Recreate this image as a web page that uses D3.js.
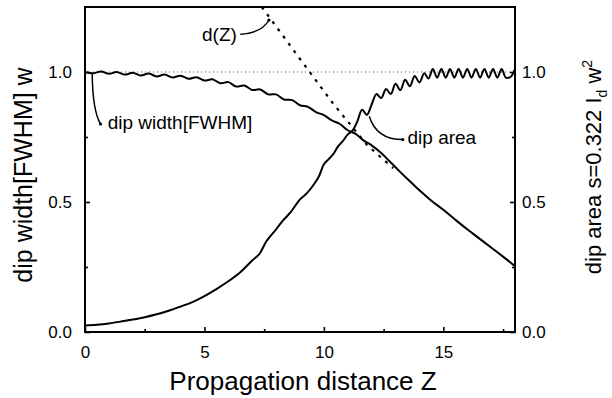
<!DOCTYPE html>
<html>
<head>
<meta charset="utf-8">
<script src="https://cdn.jsdelivr.net/npm/d3@7"></script>
<style>
  body { margin: 0; background: #fff; }
  text { font-family: Arial, "Liberation Sans", Helvetica, sans-serif; fill: #000; }
</style>
</head>
<body>
<svg id="chart" width="612" height="398"></svg>
<script>
// values
const widthZ = [0, 0.33, 0.67, 1.0, 1.33, 1.67, 2.0, 2.33, 2.67, 3.0, 3.33, 3.67, 4.0, 4.33, 4.67, 5.0, 5.33, 5.67, 6.0, 6.33, 6.67, 7.0, 7.33, 7.67, 8.0, 8.33, 8.67, 9.0, 9.33, 9.67, 10.0, 10.33, 10.67, 11.0, 11.33, 11.67, 12.0, 12.4, 12.8, 13.2, 13.6, 14.0, 14.5, 15.0, 15.5, 16.0, 16.5, 17.0, 17.5, 18.0];
const widthVal = [1.0, 0.995, 1.002, 0.993, 1.0, 0.99, 0.997, 0.987, 0.994, 0.983, 0.99, 0.979, 0.986, 0.974, 0.98, 0.967, 0.972, 0.957, 0.961, 0.944, 0.948, 0.931, 0.933, 0.914, 0.914, 0.894, 0.892, 0.872, 0.866, 0.846, 0.834, 0.814, 0.8, 0.776, 0.762, 0.736, 0.718, 0.688, 0.652, 0.615, 0.58, 0.545, 0.505, 0.47, 0.432, 0.395, 0.36, 0.325, 0.29, 0.253];

const areaZ = [0, 0.5, 1, 1.5, 2, 2.5, 3, 3.5, 4, 4.5, 5, 5.5, 6, 6.5, 7, 7.3, 7.6, 8.0, 8.3, 8.6, 9.0, 9.3, 9.6, 9.8, 10.0, 10.2, 10.4, 10.6, 10.8, 11.0, 11.2, 11.4, 11.6, 11.8, 12.0, 12.2, 12.4, 12.6, 12.8, 13.0, 13.2, 13.4, 13.6, 13.8, 14.0, 14.2, 14.38, 14.56, 14.74, 14.92, 15.1, 15.28, 15.46, 15.64, 15.82, 16.0, 16.18, 16.36, 16.54, 16.72, 16.9, 17.08, 17.26, 17.44, 17.62, 17.82, 18.0];
const areaVal = [0.025, 0.028, 0.033, 0.04, 0.048, 0.057, 0.068, 0.082, 0.098, 0.115, 0.138, 0.165, 0.195, 0.23, 0.275, 0.3, 0.35, 0.395, 0.43, 0.46, 0.51, 0.535, 0.57, 0.6, 0.645, 0.665, 0.685, 0.715, 0.735, 0.76, 0.775, 0.81, 0.855, 0.835, 0.875, 0.915, 0.9, 0.935, 0.915, 0.955, 0.93, 0.97, 0.945, 0.985, 0.96, 0.995, 0.975, 1.012, 0.978, 1.012, 0.978, 1.012, 0.978, 1.012, 0.978, 1.012, 0.978, 1.012, 0.978, 1.012, 0.978, 1.012, 0.978, 1.012, 0.978, 0.982, 1.012];

const dZ = [7.4, 9.0, 10.4, 11.8, 12.9];
const dVal = [1.25, 1.05, 0.877, 0.72, 0.63];

const xTicks = [0, 5, 10, 15];
const xMinor = [2.5, 7.5, 12.5, 17.5];
const yTicks = [0, 0.5, 1.0];
const yMinor = [0.25, 0.75];

const margin = { top: 7, right: 97, bottom: 66, left: 85 };
const W = 612 - margin.left - margin.right;
const H = 398 - margin.top - margin.bottom;

const svg = d3.select("#chart");
const g = svg.append("g").attr("transform", `translate(${margin.left},${margin.top})`);

const x = d3.scaleLinear().domain([0, 18]).range([0, W]);
const yL = d3.scaleLinear().domain([0, 1.25]).range([H, 0]);
const yR = d3.scaleLinear().domain([0, 1.25]).range([H, 0]);

// reference line at 1.0
g.append("line")
  .attr("x1", 0).attr("x2", W)
  .attr("y1", yL(1)).attr("y2", yL(1))
  .attr("stroke", "#555").attr("stroke-width", 1)
  .attr("stroke-dasharray", "1,3");

// axes
function styleAxis(sel) {
  sel.selectAll("path.domain").remove();
  sel.selectAll("line").attr("stroke", "#000").attr("stroke-width", 1.6);
  sel.selectAll("text").attr("font-size", 17).attr("font-family", "Arial, 'Liberation Sans', sans-serif");
}

g.append("g").attr("transform", `translate(0,${H})`)
  .call(d3.axisBottom(x).tickValues(xTicks).tickSize(-5).tickPadding(14).tickFormat(d3.format("d")))
  .call(styleAxis);
g.append("g").attr("transform", `translate(0,${H})`)
  .call(d3.axisBottom(x).tickValues(xMinor).tickSize(-3).tickFormat(""))
  .call(styleAxis);

g.append("g")
  .call(d3.axisLeft(yL).tickValues(yTicks).tickSize(-5).tickPadding(13).tickFormat(d3.format(".1f")))
  .call(styleAxis);
g.append("g")
  .call(d3.axisLeft(yL).tickValues(yMinor).tickSize(-3).tickFormat(""))
  .call(styleAxis);

g.append("g").attr("transform", `translate(${W},0)`)
  .call(d3.axisRight(yR).tickValues(yTicks).tickSize(-5).tickPadding(7).tickFormat(d3.format(".1f")))
  .call(styleAxis);
g.append("g").attr("transform", `translate(${W},0)`)
  .call(d3.axisRight(yR).tickValues(yMinor).tickSize(-3).tickFormat(""))
  .call(styleAxis);

// frame
g.append("rect")
  .attr("width", W).attr("height", H)
  .attr("fill", "none").attr("stroke", "#000").attr("stroke-width", 2);

// curves
const lineL = d3.line().curve(d3.curveCatmullRom).x(d => x(d[0])).y(d => yL(d[1]));
const lineR = d3.line().curve(d3.curveCatmullRom).x(d => x(d[0])).y(d => yR(d[1]));

g.append("path")
  .datum(d3.zip(widthZ, widthVal))
  .attr("d", lineL)
  .attr("fill", "none").attr("stroke", "#000").attr("stroke-width", 2);

g.append("path")
  .datum(d3.zip(areaZ, areaVal))
  .attr("d", lineR)
  .attr("fill", "none").attr("stroke", "#000").attr("stroke-width", 2);

g.append("path")
  .datum(d3.zip(dZ, dVal))
  .attr("d", d3.line().x(d => x(d[0])).y(d => yL(d[1])))
  .attr("fill", "none").attr("stroke", "#000").attr("stroke-width", 2.2)
  .attr("stroke-dasharray", "3,6");

// annotations
function leader(x0, y0, cx, cy, x1, y1) {
  g.append("path")
    .attr("d", `M${x0},${y0} Q${cx},${cy} ${x1},${y1}`)
    .attr("fill", "none").attr("stroke", "#000").attr("stroke-width", 1.5);
  g.append("circle").attr("cx", x1).attr("cy", y1).attr("r", 1.6).attr("fill", "#000");
}

g.append("text").attr("x", x(4.9)).attr("y", yL(1.12)).attr("font-size", 19).text("d(Z)");
leader(x(6.5), yL(1.145), x(7.4), yL(1.15), x(7.7), yL(1.2));

g.append("text").attr("x", x(0.95)).attr("y", yL(0.78)).attr("font-size", 19).text("dip width[FWHM]");
leader(x(0.3), yL(0.995), x(0.32), yL(0.85), x(0.65), yL(0.8));

g.append("text").attr("x", x(13.5)).attr("y", yL(0.725)).attr("font-size", 19).text("dip area");
leader(x(11.9), yL(0.83), x(12.2), yL(0.74), x(13.3), yL(0.74));

// axis titles
svg.append("text")
  .attr("x", margin.left + W / 2 + 3).attr("y", 390)
  .attr("text-anchor", "middle").attr("font-size", 26)
  .text("Propagation distance Z");

svg.append("text")
  .attr("transform", `translate(32,175) rotate(-90)`)
  .attr("text-anchor", "middle").attr("font-size", 25)
  .text("dip width[FWHM] w");

const rt = svg.append("text")
  .attr("transform", `translate(601,167) rotate(-90)`)
  .attr("text-anchor", "middle").attr("font-size", 22);
rt.append("tspan").text("dip area s=0.322 I");
rt.append("tspan").attr("font-size", 14).attr("dy", 6).text("d");
rt.append("tspan").attr("dy", -6).text(" w");
rt.append("tspan").attr("font-size", 14).attr("dy", -9).text("2");
</script>
</body>
</html>
